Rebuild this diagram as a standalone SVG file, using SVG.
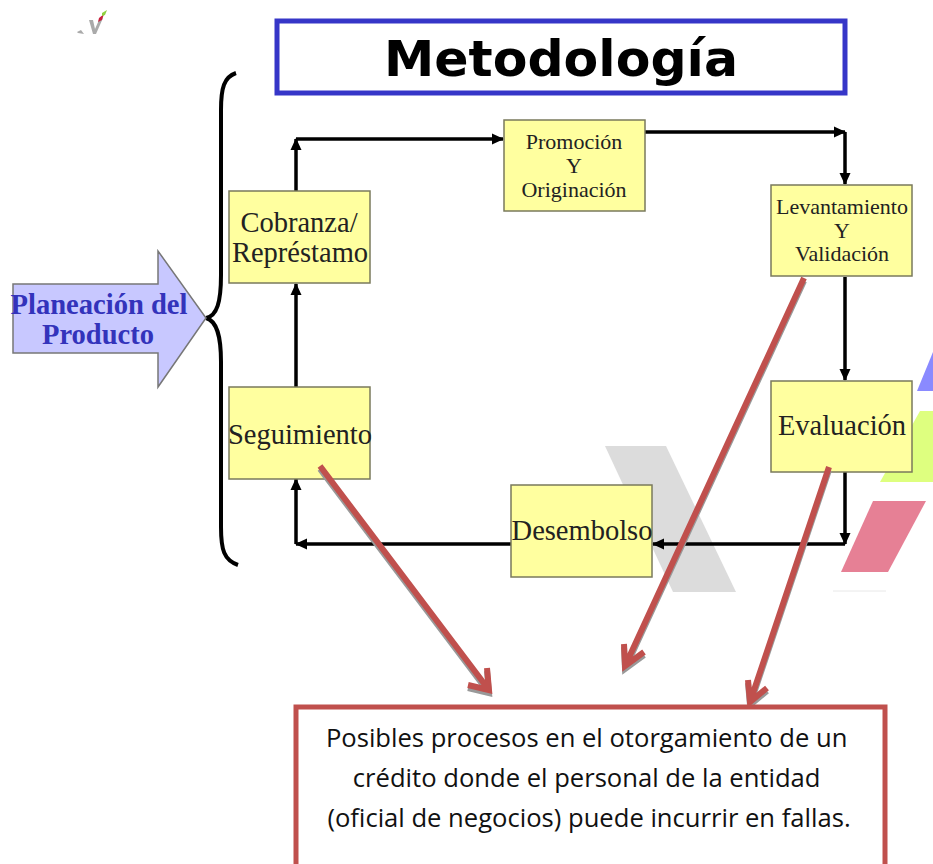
<svg xmlns="http://www.w3.org/2000/svg" width="933" height="864" viewBox="0 0 933 864">
<style>
.box{fill:#ffff9f;stroke:#7a7a5c;stroke-width:1.5}
.t{font-family:"Liberation Serif",serif;fill:#222;text-anchor:middle}
.c{fill:none;stroke:#000;stroke-width:3.5}
.r{fill:none;stroke:#c0504d;stroke-width:6}
.s{fill:none;stroke:#999;stroke-width:6}
</style>
<defs>
<marker id="a" markerUnits="userSpaceOnUse" markerWidth="14" markerHeight="14" refX="11" refY="6" orient="auto"><path d="M0,0.5L12,6L0,11.5Z" fill="#000"/></marker>
</defs>
<g id="background">
<polygon points="605,446 666,446 736,592 673,592" fill="#dcdcdc"/>
<polygon points="873,501 926,501 888,572 841,572" fill="#e68095"/>
<polygon points="920,411 933,411 933,482 880,482" fill="#deff7f"/>
<polygon points="917,391 933,352 933,391" fill="#8a8aff"/>
<line x1="833" y1="591" x2="886" y2="591" stroke="#e8e8e8"/>
</g>
<g id="logo">
<polygon points="89,20 93,20 95,29 99,20 103,18 96,34 93,34" fill="#aaa"/>
<polygon points="99,18 104,14 102,20 98,22" fill="#c8203c"/>
<polygon points="102,13 107,10 105,15 102,16" fill="#8fd13f"/>
<polygon points="77,32 81,30 84,34 78,33" fill="#aaa"/>
</g>
<g id="title">
<rect x="277" y="21" width="568" height="72" fill="#fff" stroke="#3636c8" stroke-width="5"/>
<text x="561" y="76" font-family="'DejaVu Sans',sans-serif" font-weight="700" font-size="50" text-anchor="middle" fill="#000" textLength="354" lengthAdjust="spacingAndGlyphs">Metodología</text>
</g>
<g id="brace"><path class="c" style="stroke-width:4" d="M236,73C224,77 221,88 221,110L221,275C221,302 217,316 206,318C217,321 221,336 221,362L221,527C221,550 224,560 238,565"/></g>
<g id="connectors">
<path class="c" marker-end="url(#a)" d="M296,191V139"/>
<path class="c" marker-end="url(#a)" d="M296,139H503"/>
<path class="c" marker-end="url(#a)" d="M645,132H845"/>
<path class="c" marker-end="url(#a)" d="M845,132V184"/>
<path class="c" marker-end="url(#a)" d="M845,277V380"/>
<path class="c" marker-end="url(#a)" d="M845,472V544"/>
<path class="c" marker-end="url(#a)" d="M845,544H653"/>
<path class="c" marker-end="url(#a)" d="M511,544H296"/>
<path class="c" marker-end="url(#a)" d="M296,544V479"/>
<path class="c" marker-end="url(#a)" d="M296,387V284"/>
</g>
<g id="planeacion">
<polygon points="13,284 158,284 158,251 206,318 158,387 158,353 13,353" fill="#c8c8ff" stroke="#777" stroke-width="1.5"/>
<text x="99" y="314" class="t" style="fill:#3333bb;font-weight:700" font-size="28.5" textLength="177" lengthAdjust="spacingAndGlyphs">Planeación del</text>
<text x="98" y="344" class="t" style="fill:#3333bb;font-weight:700" font-size="28.5">Producto</text>
</g>
<g id="cobranza">
<rect class="box" x="229" y="191" width="141" height="92"/>
<text x="299" y="232" class="t" font-size="28.5">Cobranza/</text>
<text x="300" y="262" class="t" font-size="28.5">Représtamo</text>
</g>
<g id="promocion">
<rect class="box" x="504" y="120" width="141" height="91"/>
<text x="574" y="149" class="t" font-size="22">Promoción</text>
<text x="574" y="173" class="t" font-size="22">Y</text>
<text x="574" y="197" class="t" font-size="22">Originación</text>
</g>
<g id="levantamiento">
<rect class="box" x="771" y="185" width="141" height="91"/>
<text x="842" y="214" class="t" font-size="22">Levantamiento</text>
<text x="842" y="238" class="t" font-size="22">Y</text>
<text x="842" y="261" class="t" font-size="22">Validación</text>
</g>
<g id="evaluacion">
<rect class="box" x="771" y="381" width="141" height="91"/>
<text x="842" y="435" class="t" font-size="28.5">Evaluación</text>
</g>
<g id="desembolso">
<rect class="box" x="511" y="485" width="141" height="92"/>
<text x="582" y="540" class="t" font-size="28.5">Desembolso</text>
</g>
<g id="seguimiento">
<rect class="box" x="229" y="387" width="141" height="92"/>
<text x="300" y="444" class="t" font-size="28.5">Seguimiento</text>
</g>
<g id="red-arrows">
<g transform="translate(0,3)">
<path class="s" d="M320,466L489,690M468,685L489,690L487,668"/>
<path class="s" d="M804,278L625,666M624,644L625,666L644,652"/>
<path class="s" d="M829,467L750,702M748,680L750,702L767,688"/>
</g>
<path class="r" d="M320,466L489,690M468,685L489,690L487,668"/>
<path class="r" d="M804,278L625,666M624,644L625,666L644,652"/>
<path class="r" d="M829,467L750,702M748,680L750,702L767,688"/>
</g>
<g id="note">
<rect x="296" y="707" width="589" height="170" fill="#fff" stroke="#c0504d" stroke-width="5"/>
<text font-family="'Open Sans','Noto Sans',sans-serif" font-size="25.6" fill="#111" text-anchor="middle">
<tspan x="590" y="747">Posibles procesos en el otorgamiento de un</tspan>
<tspan x="590" y="787">crédito donde el personal de la entidad</tspan>
<tspan x="589" y="827">(oficial de negocios) puede incurrir en fallas.</tspan>
</text>
</g>
</svg>
